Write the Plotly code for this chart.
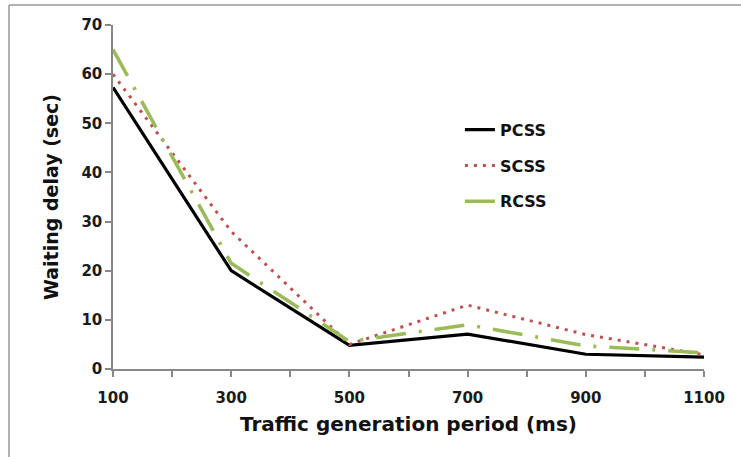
import plotly.graph_objects as go

periods = [100, 300, 500, 700, 900, 1100]
pcss = [57.3, 20.0, 4.8, 7.1, 3.0, 2.4]
scss = [60.0, 28.0, 5.0, 13.0, 7.0, 2.9]
rcss = [65.0, 21.5, 5.6, 9.0, 4.7, 3.3]
series_names = ["PCSS", "SCSS", "RCSS"]
x_ticks = [100, 300, 500, 700, 900, 1100]
y_ticks = [0, 10, 20, 30, 40, 50, 60, 70]

FONT = "DejaVu Sans, Verdana, sans-serif"

fig = go.Figure()
fig.add_trace(go.Scatter(x=periods, y=pcss, name="<b>%s</b>" % series_names[0], mode="lines",
                         legendgroup="a",
                         line=dict(color="#000000", width=3.2)))
fig.add_trace(go.Scatter(x=periods, y=scss, name="<b>%s</b>" % series_names[1], mode="lines",
                         legendgroup="b",
                         line=dict(color="#C0504D", width=3, dash="3px,6px")))
fig.add_trace(go.Scatter(x=periods, y=rcss, name="<b>%s</b>" % series_names[2], mode="lines",
                         legendgroup="c",
                         line=dict(color="#9BBB59", width=3.6, dash="30px,13px,3px,13px")))

axis_font = dict(family=FONT, size=15, color="#1a1a1a")

fig.update_layout(
    width=741, height=457,
    margin=dict(l=113, r=37, t=25, b=88),
    paper_bgcolor="white", plot_bgcolor="white",
    font=dict(family=FONT, color="#1a1a1a"),
    showlegend=True,
    legend=dict(x=0.587, y=0.745, xanchor="left", yanchor="top",
                bgcolor="rgba(0,0,0,0)", tracegroupgap=12,
                font=dict(family=FONT, size=16, color="#111")),
    xaxis=dict(range=[100, 1100], tickmode="array",
               tickvals=x_ticks,
               ticktext=["<b>%d</b>" % v for v in x_ticks],
               ticks="outside", ticklen=6, tickcolor="#888", tickwidth=1.5,
               ticklabelstandoff=8,
               minor=dict(tickvals=[200, 400, 600, 800, 1000], ticks="outside",
                          ticklen=6, tickcolor="#888", tickwidth=1.5),
               showline=True, linecolor="#888", linewidth=1.5,
               showgrid=False, zeroline=False,
               tickfont=axis_font,
               title=dict(text="<b>Traffic generation period (ms)</b>",
                          font=dict(family=FONT, size=20, color="#111"),
                          standoff=11)),
    yaxis=dict(range=[0, 70], tickmode="array",
               tickvals=y_ticks,
               ticktext=["<b>%d</b>" % v for v in y_ticks],
               ticks="outside", ticklen=6, tickcolor="#888", tickwidth=1.5,
               showline=True, linecolor="#888", linewidth=1.5,
               showgrid=False, zeroline=False,
               tickfont=axis_font,
               title=dict(text="<b>Waiting delay (sec)</b>",
                          font=dict(family=FONT, size=19, color="#111"),
                          standoff=18)),
)

# outer frame lines (top and left only, as in the reference)
W, H = 741, 457
l, r, t, b = 113, 37, 25, 88
pw, ph = W - l - r, H - t - b
def px(xp):
    return (xp - l) / pw
def py(yp):
    return (H - b - yp) / ph
fig.add_shape(type="line", xref="paper", yref="paper",
              x0=px(9), x1=px(741), y0=py(5), y1=py(5),
              line=dict(color="#999", width=1.5))
fig.add_shape(type="line", xref="paper", yref="paper",
              x0=px(9), x1=px(9), y0=py(5), y1=py(457),
              line=dict(color="#999", width=1.5))

fig.write_html("out.html", config={"displayModeBar": False},
               post_script="document.body.style.margin='0';document.body.style.overflow='hidden';")
